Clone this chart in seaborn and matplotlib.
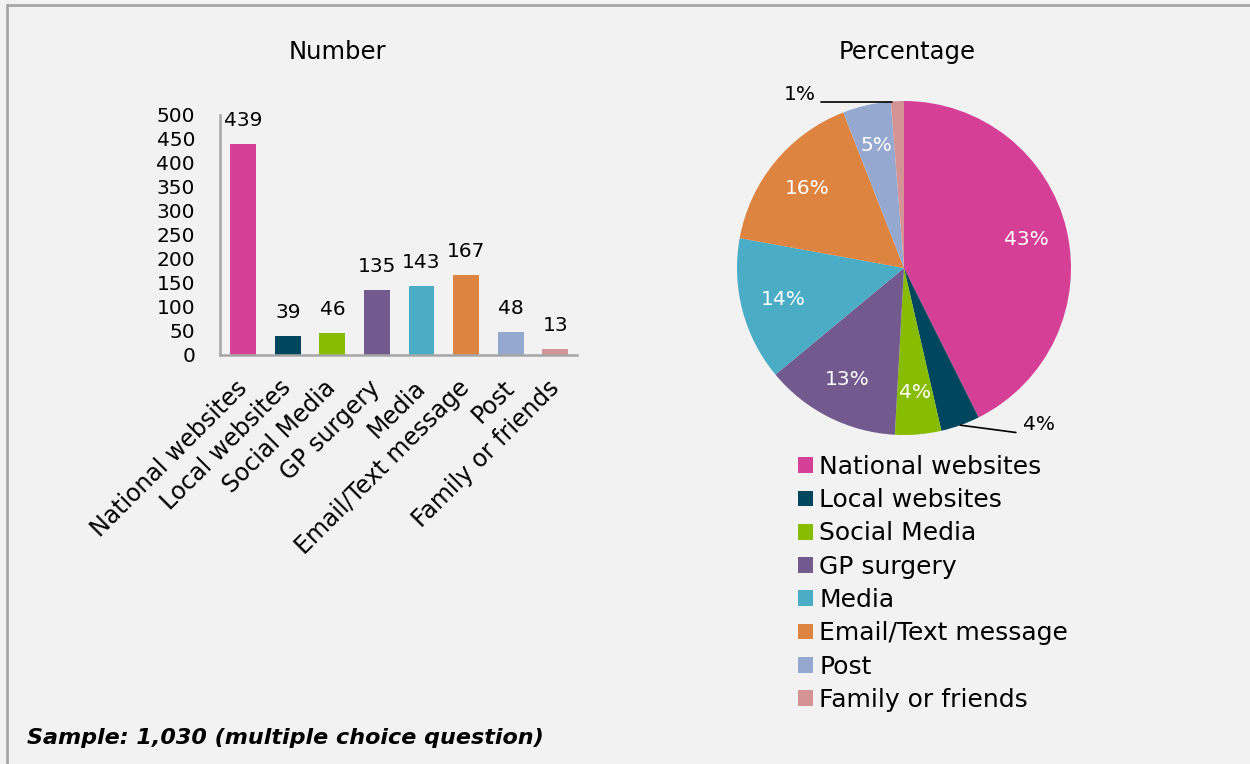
import numpy as np
import matplotlib
matplotlib.use('Agg')
from matplotlib import pyplot as plt
from matplotlib.lines import Line2D
import seaborn as sns

categories = ['National websites', 'Local websites', 'Social Media', 'GP surgery',
              'Media', 'Email/Text message', 'Post', 'Family or friends']
counts = [439, 39, 46, 135, 143, 167, 48, 13]
colors = ['#d63f96', '#00465e', '#88bc00', '#725a8f',
          '#4bacc6', '#dd8441', '#95a9d0', '#d49496']
y_ticks = list(range(0, 501, 50))
sample_note = 'Sample: 1,030 (multiple choice question)'

BG = '#f2f2f2'
GREY = '#a6a6a6'

sns.set_theme(style='white', rc={'text.color': 'black', 'xtick.color': 'black',
                                 'ytick.color': 'black', 'axes.labelcolor': 'black'})
plt.rcParams['font.family'] = ['DejaVu Sans']

fig = plt.figure(figsize=(12.5, 7.64), dpi=100, facecolor=BG)
W, H = 1250, 764

def box(x0, y0, x1, y1):
    # pixel box (top-left origin) -> figure fraction rect
    return [x0 / W, 1 - y1 / H, (x1 - x0) / W, (y1 - y0) / H]

# frame around the picture (only top and left edges visible)
fig.add_artist(Line2D([7 / W, 1], [1 - 5 / H, 1 - 5 / H], color=GREY, lw=2, transform=fig.transFigure))
fig.add_artist(Line2D([7 / W, 7 / W], [0, 1 - 5 / H], color=GREY, lw=2, transform=fig.transFigure))

# --- bar chart ---
ax1 = fig.add_axes(box(220, 115, 577, 355))
ax1.set_facecolor('none')
sns.barplot(x=categories, y=counts, hue=categories, palette=colors, legend=False,
            width=0.58, saturation=1, linewidth=0, ax=ax1)
ax1.set_ylim(0, 500)
ax1.set_xlim(-0.52, 7.49)
ax1.set_yticks(y_ticks)
ax1.tick_params(axis='y', length=0, pad=18, labelsize=14.5)
ax1.tick_params(axis='x', length=0, pad=21, labelsize=17)
plt.setp(ax1.get_xticklabels(), rotation=45, ha='right', va='center', rotation_mode='anchor')
for side in ['top', 'right']:
    ax1.spines[side].set_visible(False)
for side in ['left', 'bottom']:
    ax1.spines[side].set_color(GREY)
    ax1.spines[side].set_linewidth(1.8)
ax1.set_xlabel('')
ax1.set_ylabel('')
for c in ax1.containers:
    ax1.bar_label(c, padding=10, fontsize=14.5, color='black')
fig.text(337 / W, 1 - 52 / H, 'Number', ha='center', va='center', fontsize=17.5)

# --- pie chart ---
ax2 = fig.add_axes(box(737, 101, 1071, 435))
total = sum(counts)
pct = [v / total * 100 for v in counts]
wedges, _ = ax2.pie(counts, colors=colors, startangle=90, counterclock=False,
                    wedgeprops=dict(linewidth=0))
ax2.set_xlim(-1, 1)
ax2.set_ylim(-1, 1)
ax2.set_aspect('equal')

# labels: inside for large slices, outside with leader lines for the small ones
for i, w in enumerate(wedges):
    ang = np.deg2rad((w.theta1 + w.theta2) / 2)
    ex, ey = np.cos(ang), np.sin(ang)
    label = f'{pct[i]:.0f}%'
    if i == 1:
        ax2.plot([ex, 0.67], [ey, -0.985], color='black', lw=1.2, clip_on=False)
        ax2.text(0.71, -0.94, label, ha='left', va='center', fontsize=14.5)
    elif i == 7:
        ax2.plot([ex - 0.03, -0.5], [ey - 0.005, ey - 0.005], color='black', lw=1.2, clip_on=False)
        ax2.text(-0.53, ey - 0.02, label, ha='right', va='bottom', fontsize=14.5)
    else:
        ax2.text(0.75 * ex, 0.75 * ey, label, ha='center', va='center',
                 fontsize=14.5, color='white')
fig.text(907 / W, 1 - 52 / H, 'Percentage', ha='center', va='center', fontsize=17.5)

fig.legend(wedges, categories, loc='upper left', bbox_to_anchor=(798 / W, 1 - 455 / H),
           frameon=False, fontsize=18, handlelength=0.6, handleheight=0.6,
           handletextpad=0.25, labelspacing=0.37, borderpad=0, borderaxespad=0)

fig.text(27 / W, 1 - 738 / H, sample_note, ha='left', va='center', fontsize=16,
         style='italic', weight='bold')

fig.savefig('out.png', dpi=100, facecolor=BG)
